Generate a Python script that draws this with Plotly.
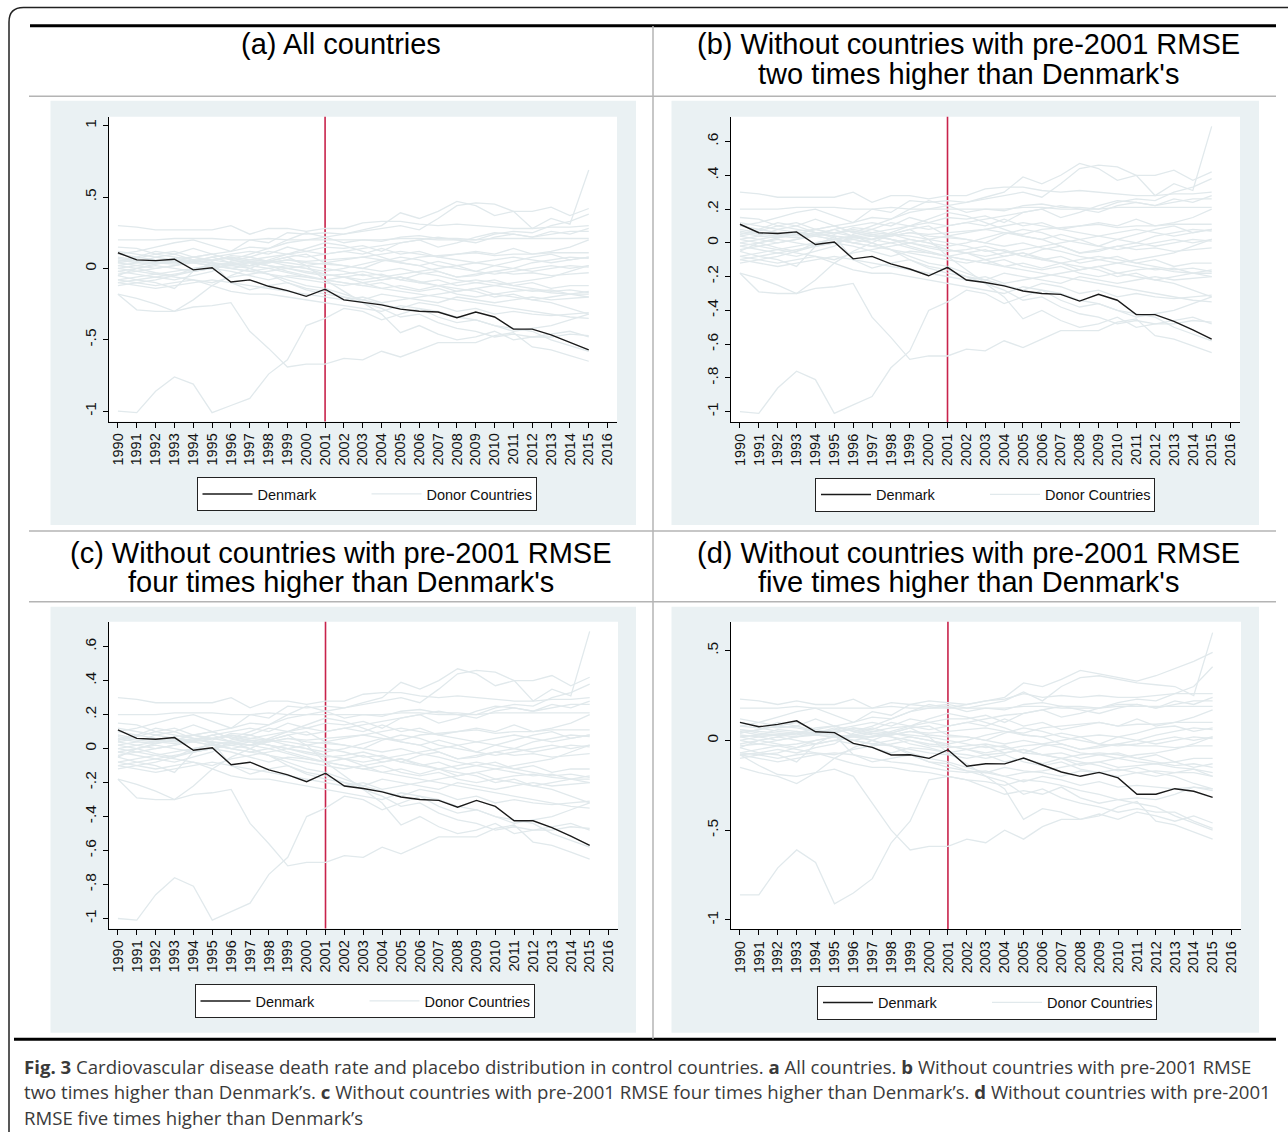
import plotly.graph_objects as go

W, H = 1288, 1132

# ---------------- data ----------------
years = list(range(1990, 2016))
year_ticks = list(range(1990, 2017))

denmark_abc = [0.11, 0.06, 0.055, 0.065, -0.01, 0.005, -0.095, -0.08, -0.125, -0.155, -0.195, -0.145, -0.22,
               -0.235, -0.255, -0.285, -0.30, -0.305, -0.345, -0.305, -0.34, -0.425, -0.425, -0.465, -0.515, -0.57]
denmark_d = [0.10, 0.076, 0.089, 0.109, 0.048, 0.043, -0.017, -0.039, -0.081, -0.080, -0.10, -0.052, -0.144,
             -0.13, -0.131, -0.098, -0.137, -0.176, -0.20, -0.178, -0.209, -0.30, -0.30, -0.269, -0.283, -0.317]

abc_01 = [0.30, 0.29, 0.27, 0.27, 0.27, 0.27, 0.30, 0.24, 0.28, 0.28, 0.26, 0.28, 0.28, 0.32, 0.33, 0.33, 0.31, 0.30, 0.31, 0.30, 0.29, 0.28, 0.28, 0.29, 0.29, 0.30]
abc_02 = [0.15, 0.14, 0.10, 0.12, 0.08, 0.10, 0.06, 0.10, 0.14, 0.20, 0.25, 0.22, 0.24, 0.27, 0.30, 0.39, 0.35, 0.40, 0.47, 0.44, 0.37, 0.40, 0.40, 0.43, 0.37, 0.42]
abc_03 = [0.05, 0.08, 0.12, 0.10, 0.14, 0.10, 0.12, 0.20, 0.18, 0.25, 0.24, 0.25, 0.24, 0.26, 0.28, 0.30, 0.27, 0.35, 0.44, 0.46, 0.45, 0.40, 0.28, 0.35, 0.31, 0.69]
abc_04 = [0.20, 0.20, 0.20, 0.21, 0.21, 0.21, 0.20, 0.20, 0.21, 0.20, 0.20, 0.20, 0.20, 0.20, 0.20, 0.21, 0.21, 0.20, 0.20, 0.20, 0.21, 0.21, 0.21, 0.21, 0.21, 0.21]
abc_05 = [0.10, 0.12, 0.15, 0.18, 0.20, 0.16, 0.12, 0.15, 0.14, 0.18, 0.20, 0.22, 0.18, 0.20, 0.19, 0.22, 0.23, 0.21, 0.21, 0.20, 0.24, 0.26, 0.25, 0.30, 0.33, 0.38]
abc_06 = [0.02, 0.04, 0.08, 0.06, 0.05, 0.08, 0.10, 0.12, 0.10, 0.15, 0.12, 0.15, 0.14, 0.16, 0.12, 0.18, 0.20, 0.15, 0.18, 0.22, 0.25, 0.24, 0.22, 0.26, 0.24, 0.28]
abc_07 = [-0.05, 0.0, 0.03, 0.05, 0.08, 0.05, 0.09, 0.08, 0.12, 0.10, 0.08, 0.10, 0.12, 0.10, 0.14, 0.10, 0.12, 0.08, 0.10, 0.12, 0.10, 0.14, 0.10, 0.12, 0.15, 0.20]
abc_08 = [0.08, 0.06, 0.05, 0.04, 0.06, 0.06, 0.07, 0.05, 0.04, 0.06, 0.05, 0.06, 0.07, 0.08, 0.06, 0.05, 0.08, 0.09, 0.10, 0.11, 0.09, 0.10, 0.10, 0.11, 0.11, 0.11]
abc_09 = [0.04, 0.02, 0.0, 0.02, 0.05, 0.08, 0.04, 0.02, 0.05, 0.08, 0.10, 0.04, 0.02, 0.0, 0.05, 0.08, 0.06, 0.02, 0.0, -0.02, 0.02, 0.05, 0.08, 0.10, 0.06, 0.08]
abc_10 = [0.0, 0.02, 0.04, 0.06, 0.04, 0.02, 0.0, -0.02, 0.0, 0.02, 0.0, -0.02, 0.0, 0.03, 0.06, 0.04, 0.02, 0.05, 0.02, -0.02, -0.04, -0.02, 0.0, 0.02, 0.0, 0.02]
abc_11 = [-0.02, 0.0, 0.02, 0.0, -0.02, 0.0, 0.03, 0.05, 0.02, 0.0, -0.03, -0.05, -0.04, -0.02, -0.05, -0.08, -0.04, -0.02, -0.06, -0.05, -0.02, -0.04, -0.03, -0.05, -0.04, -0.03]
abc_12 = [0.06, 0.04, 0.03, 0.05, 0.08, 0.10, 0.06, 0.04, 0.02, -0.02, -0.05, -0.08, -0.06, -0.10, -0.08, -0.06, -0.09, -0.12, -0.10, -0.08, -0.10, -0.12, -0.10, -0.14, -0.12, -0.12]
abc_13 = [-0.08, -0.06, -0.04, -0.02, 0.0, 0.02, 0.0, -0.02, -0.04, -0.06, -0.08, -0.10, -0.12, -0.10, -0.14, -0.12, -0.15, -0.12, -0.16, -0.14, -0.18, -0.16, -0.15, -0.17, -0.18, -0.18]
abc_14 = [0.02, 0.0, -0.03, -0.05, -0.02, 0.0, -0.02, -0.05, -0.08, -0.05, -0.06, -0.08, -0.10, -0.12, -0.10, -0.14, -0.16, -0.14, -0.18, -0.20, -0.18, -0.20, -0.22, -0.20, -0.18, -0.20]
abc_15 = [-0.10, -0.08, -0.06, -0.08, -0.05, -0.02, 0.05, 0.08, 0.05, 0.02, 0.0, -0.04, -0.06, -0.04, -0.08, -0.06, -0.10, -0.08, -0.12, -0.10, -0.08, -0.12, -0.14, -0.16, -0.15, -0.17]
abc_16 = [-0.12, -0.10, -0.08, -0.05, 0.0, 0.02, 0.04, 0.0, -0.04, -0.10, -0.15, -0.18, -0.20, -0.22, -0.18, -0.20, -0.22, -0.24, -0.20, -0.22, -0.24, -0.22, -0.20, -0.22, -0.21, -0.20]
abc_17 = [0.12, 0.10, 0.08, 0.10, 0.06, 0.04, 0.02, 0.0, -0.04, -0.08, -0.12, -0.14, -0.18, -0.22, -0.25, -0.28, -0.24, -0.26, -0.30, -0.28, -0.32, -0.30, -0.32, -0.33, -0.32, -0.31]
abc_18 = [-0.05, -0.08, -0.10, -0.14, -0.02, 0.04, -0.10, -0.15, -0.12, -0.10, -0.14, -0.16, -0.20, -0.24, -0.28, -0.34, -0.32, -0.38, -0.42, -0.44, -0.48, -0.46, -0.48, -0.48, -0.46, -0.47]
abc_19 = [-0.18, -0.21, -0.25, -0.30, -0.22, -0.12, -0.05, 0.0, 0.05, 0.08, 0.02, -0.08, -0.16, -0.24, -0.32, -0.45, -0.40, -0.46, -0.50, -0.48, -0.44, -0.50, -0.48, -0.46, -0.44, -0.48]
abc_20 = [-0.18, -0.29, -0.30, -0.30, -0.27, -0.26, -0.24, -0.44, -0.56, -0.69, -0.67, -0.67, -0.63, -0.64, -0.58, -0.62, -0.57, -0.52, -0.52, -0.52, -0.47, -0.45, -0.55, -0.57, -0.61, -0.65]
abc_21 = [-1.00, -1.01, -0.86, -0.76, -0.81, -1.01, -0.96, -0.91, -0.74, -0.64, -0.40, -0.35, -0.28, -0.30, -0.36, -0.32, -0.28, -0.34, -0.38, -0.36, -0.40, -0.44, -0.42, -0.40, -0.36, -0.32]
abc_22 = [0.05, 0.07, 0.10, 0.08, 0.06, 0.03, 0.0, 0.02, 0.06, 0.10, 0.14, 0.18, 0.16, 0.12, 0.08, 0.04, 0.02, -0.02, -0.06, -0.04, -0.02, 0.0, 0.04, 0.06, 0.08, 0.07]
abc_23 = [-0.04, -0.02, 0.0, 0.02, 0.04, 0.06, 0.08, 0.06, 0.05, 0.04, 0.02, 0.0, -0.02, -0.05, -0.04, -0.08, -0.10, -0.12, -0.14, -0.16, -0.20, -0.18, -0.22, -0.24, -0.28, -0.32]
abc_24 = [0.10, 0.08, 0.06, 0.05, 0.04, 0.02, 0.04, 0.06, 0.08, 0.10, 0.12, 0.10, 0.12, 0.14, 0.16, 0.18, 0.20, 0.22, 0.20, 0.18, 0.22, 0.24, 0.22, 0.24, 0.26, 0.26]
abc_25 = [-0.08, -0.10, -0.12, -0.10, -0.08, -0.12, -0.16, -0.18, -0.18, -0.20, -0.22, -0.24, -0.26, -0.28, -0.30, -0.26, -0.28, -0.30, -0.34, -0.36, -0.40, -0.42, -0.44, -0.50, -0.54, -0.58]
abc_26 = [0.0, -0.02, -0.04, -0.06, -0.08, -0.10, -0.06, -0.04, -0.02, 0.0, -0.02, -0.04, -0.06, -0.08, -0.06, -0.04, -0.02, 0.0, 0.02, 0.04, 0.02, 0.0, -0.02, 0.0, 0.02, 0.01]
abc_27 = [0.07, 0.05, 0.04, 0.03, 0.05, 0.04, 0.03, 0.02, 0.04, 0.06, 0.04, 0.03, 0.02, 0.0, -0.02, 0.0, -0.03, -0.05, -0.08, -0.10, -0.12, -0.14, -0.16, -0.15, -0.18, -0.16]
abc_28 = [-0.02, -0.04, -0.06, -0.04, -0.02, 0.0, 0.02, 0.04, 0.02, 0.0, 0.02, 0.04, 0.06, 0.08, 0.10, 0.12, 0.10, 0.08, 0.06, 0.04, 0.06, 0.08, 0.06, 0.04, 0.06, 0.08]
abc_29 = [0.04, 0.06, 0.05, 0.07, 0.08, 0.06, 0.04, 0.02, 0.0, -0.03, -0.06, -0.08, -0.10, -0.12, -0.14, -0.16, -0.18, -0.20, -0.22, -0.24, -0.26, -0.28, -0.30, -0.32, -0.34, -0.35]
abc_30 = [-0.10, -0.12, -0.14, -0.12, -0.10, -0.08, -0.10, -0.12, -0.14, -0.16, -0.18, -0.20, -0.22, -0.20, -0.24, -0.22, -0.20, -0.18, -0.16, -0.14, -0.12, -0.10, -0.08, -0.06, -0.02, 0.02]

d_01 = [0.23, 0.22, 0.20, 0.22, 0.20, 0.20, 0.23, 0.18, 0.21, 0.20, 0.22, 0.21, 0.20, 0.22, 0.23, 0.26, 0.24, 0.25, 0.24, 0.25, 0.24, 0.24, 0.25, 0.26, 0.26, 0.26]
d_02 = [0.12, 0.10, 0.08, 0.10, 0.06, 0.08, 0.05, 0.08, 0.12, 0.16, 0.20, 0.18, 0.20, 0.22, 0.24, 0.32, 0.30, 0.34, 0.39, 0.37, 0.35, 0.33, 0.36, 0.40, 0.44, 0.49]
d_03 = [0.04, 0.06, 0.10, 0.08, 0.12, 0.08, 0.10, 0.16, 0.14, 0.20, 0.19, 0.20, 0.18, 0.20, 0.22, 0.27, 0.22, 0.30, 0.35, 0.36, 0.34, 0.32, 0.31, 0.30, 0.25, 0.60]
d_04 = [0.18, 0.18, 0.18, 0.19, 0.18, 0.18, 0.18, 0.18, 0.19, 0.18, 0.18, 0.18, 0.18, 0.18, 0.18, 0.19, 0.19, 0.18, 0.18, 0.18, 0.19, 0.19, 0.19, 0.19, 0.19, 0.19]
d_05 = [0.08, 0.10, 0.13, 0.16, 0.18, 0.14, 0.10, 0.13, 0.12, 0.16, 0.18, 0.19, 0.16, 0.18, 0.17, 0.20, 0.21, 0.19, 0.19, 0.18, 0.21, 0.23, 0.22, 0.26, 0.30, 0.41]
d_06 = [0.02, 0.03, 0.06, 0.05, 0.04, 0.06, 0.08, 0.10, 0.08, 0.12, 0.10, 0.12, 0.12, 0.14, 0.10, 0.15, 0.17, 0.13, 0.15, 0.18, 0.20, 0.20, 0.18, 0.22, 0.20, 0.24]
d_07 = [-0.04, 0.0, 0.02, 0.04, 0.06, 0.04, 0.07, 0.06, 0.10, 0.08, 0.06, 0.08, 0.10, 0.08, 0.12, 0.08, 0.10, 0.06, 0.08, 0.10, 0.08, 0.12, 0.08, 0.10, 0.13, 0.17]
d_08 = [0.06, 0.05, 0.04, 0.03, 0.05, 0.05, 0.06, 0.04, 0.03, 0.05, 0.04, 0.05, 0.06, 0.07, 0.05, 0.04, 0.07, 0.08, 0.09, 0.10, 0.08, 0.09, 0.09, 0.10, 0.10, 0.10]
d_09 = [0.03, 0.02, 0.0, 0.02, 0.04, 0.07, 0.03, 0.02, 0.04, 0.07, 0.08, 0.03, 0.02, 0.0, 0.04, 0.07, 0.05, 0.02, 0.0, -0.02, 0.02, 0.04, 0.07, 0.08, 0.05, 0.07]
d_10 = [0.0, 0.02, 0.03, 0.05, 0.03, 0.02, 0.0, -0.02, 0.0, 0.02, 0.0, -0.02, 0.0, 0.03, 0.05, 0.03, 0.02, 0.04, 0.02, -0.02, -0.03, -0.02, 0.0, 0.02, 0.0, 0.02]
d_11 = [-0.02, 0.0, 0.02, 0.0, -0.02, 0.0, 0.02, 0.04, 0.02, 0.0, -0.03, -0.04, -0.03, -0.02, -0.04, -0.07, -0.03, -0.02, -0.05, -0.04, -0.02, -0.03, -0.03, -0.04, -0.03, -0.03]
d_12 = [0.05, 0.03, 0.03, 0.04, 0.07, 0.08, 0.05, 0.03, 0.02, -0.02, -0.04, -0.07, -0.05, -0.08, -0.07, -0.05, -0.08, -0.10, -0.08, -0.07, -0.08, -0.10, -0.08, -0.12, -0.10, -0.10]
d_13 = [-0.07, -0.05, -0.03, -0.02, 0.0, 0.02, 0.0, -0.02, -0.03, -0.05, -0.07, -0.08, -0.10, -0.08, -0.12, -0.10, -0.13, -0.10, -0.14, -0.12, -0.15, -0.14, -0.13, -0.15, -0.16, -0.18]
d_14 = [0.02, 0.0, -0.02, -0.04, -0.02, 0.0, -0.02, -0.04, -0.07, -0.04, -0.05, -0.07, -0.08, -0.10, -0.08, -0.12, -0.14, -0.12, -0.16, -0.18, -0.16, -0.18, -0.20, -0.18, -0.16, -0.20]
d_15 = [-0.08, -0.07, -0.05, -0.07, -0.04, -0.02, 0.04, 0.07, 0.04, 0.02, 0.0, -0.03, -0.05, -0.03, -0.07, -0.05, -0.08, -0.07, -0.10, -0.08, -0.07, -0.10, -0.12, -0.14, -0.13, -0.15]
d_16 = [-0.10, -0.08, -0.07, -0.04, 0.0, 0.02, 0.03, 0.0, -0.03, -0.08, -0.12, -0.15, -0.17, -0.18, -0.15, -0.17, -0.18, -0.20, -0.17, -0.18, -0.20, -0.18, -0.17, -0.18, -0.18, -0.20]
d_17 = [0.10, 0.08, 0.07, 0.08, 0.05, 0.03, 0.02, 0.0, -0.03, -0.07, -0.10, -0.12, -0.15, -0.18, -0.20, -0.23, -0.20, -0.22, -0.25, -0.23, -0.26, -0.25, -0.26, -0.27, -0.26, -0.27]
d_18 = [-0.04, -0.07, -0.08, -0.12, -0.02, 0.03, -0.08, -0.12, -0.10, -0.08, -0.12, -0.13, -0.17, -0.20, -0.23, -0.30, -0.27, -0.32, -0.35, -0.37, -0.40, -0.38, -0.40, -0.40, -0.45, -0.49]
d_19 = [-0.15, -0.18, -0.20, -0.24, -0.18, -0.10, -0.04, 0.0, 0.04, 0.07, 0.02, -0.07, -0.13, -0.20, -0.27, -0.44, -0.38, -0.40, -0.44, -0.41, -0.44, -0.40, -0.42, -0.45, -0.42, -0.46]
d_20 = [-0.08, -0.14, -0.19, -0.20, -0.18, -0.16, -0.20, -0.35, -0.50, -0.61, -0.59, -0.59, -0.55, -0.57, -0.50, -0.55, -0.48, -0.44, -0.44, -0.42, -0.37, -0.34, -0.45, -0.47, -0.51, -0.55]
d_21 = [-0.86, -0.86, -0.71, -0.61, -0.68, -0.91, -0.85, -0.77, -0.57, -0.45, -0.22, -0.20, -0.22, -0.26, -0.30, -0.28, -0.30, -0.26, -0.32, -0.35, -0.33, -0.32, -0.33, -0.30, -0.26, -0.28]
d_22 = [0.04, 0.06, 0.08, 0.07, 0.05, 0.03, 0.0, 0.02, 0.05, 0.08, 0.12, 0.15, 0.13, 0.10, 0.07, 0.03, 0.02, -0.02, -0.05, -0.03, -0.02, 0.0, 0.03, 0.05, 0.07, 0.06]
d_23 = [-0.03, -0.02, 0.0, 0.02, 0.03, 0.05, 0.07, 0.05, 0.04, 0.03, 0.02, 0.0, -0.02, -0.04, -0.03, -0.07, -0.08, -0.10, -0.12, -0.14, -0.17, -0.15, -0.18, -0.20, -0.24, -0.27]
d_24 = [0.08, 0.07, 0.05, 0.04, 0.03, 0.02, 0.03, 0.05, 0.07, 0.08, 0.10, 0.08, 0.10, 0.12, 0.14, 0.15, 0.17, 0.19, 0.17, 0.15, 0.18, 0.20, 0.18, 0.20, 0.22, 0.22]
d_25 = [-0.07, -0.08, -0.10, -0.08, -0.07, -0.10, -0.13, -0.15, -0.15, -0.17, -0.18, -0.20, -0.22, -0.23, -0.25, -0.22, -0.23, -0.25, -0.28, -0.30, -0.33, -0.35, -0.37, -0.42, -0.46, -0.50]
d_26 = [0.0, -0.02, -0.03, -0.05, -0.07, -0.08, -0.05, -0.03, -0.02, 0.0, -0.02, -0.03, -0.05, -0.07, -0.05, -0.03, -0.02, 0.0, 0.02, 0.03, 0.02, 0.0, -0.02, 0.0, 0.02, 0.01]
d_27 = [0.06, 0.04, 0.03, 0.02, 0.04, 0.03, 0.02, 0.02, 0.03, 0.05, 0.03, 0.02, 0.02, 0.0, -0.02, 0.0, -0.02, -0.04, -0.07, -0.08, -0.10, -0.12, -0.13, -0.12, -0.15, -0.13]
d_28 = [-0.08, -0.10, -0.12, -0.10, -0.08, -0.07, -0.08, -0.10, -0.12, -0.13, -0.15, -0.17, -0.18, -0.17, -0.20, -0.18, -0.17, -0.15, -0.13, -0.12, -0.10, -0.08, -0.07, -0.05, -0.02, 0.02]

donors_abc = [abc_01, abc_02, abc_03, abc_04, abc_05, abc_06, abc_07, abc_08, abc_09, abc_10,
              abc_11, abc_12, abc_13, abc_14, abc_15, abc_16, abc_17, abc_18, abc_19, abc_20,
              abc_21, abc_22, abc_23, abc_24, abc_25, abc_26, abc_27, abc_28, abc_29, abc_30]
donors_d = [d_01, d_02, d_03, d_04, d_05, d_06, d_07, d_08, d_09, d_10, d_11, d_12, d_13, d_14,
            d_15, d_16, d_17, d_18, d_19, d_20, d_21, d_22, d_23, d_24, d_25, d_26, d_27, d_28]

treat_year = 2001

titles_a = ["(a) All countries"]
titles_b = ["(b) Without countries with pre-2001 RMSE", "two times higher than Denmark's"]
titles_c = ["(c) Without countries with pre-2001 RMSE", "four times higher than Denmark's"]
titles_d = ["(d) Without countries with pre-2001 RMSE", "five times higher than Denmark's"]

yt_a = [-1, -0.5, 0, 0.5, 1]
ytt_a = ["-1", "-.5", "0", ".5", "1"]
yt_bc = [-1, -0.8, -0.6, -0.4, -0.2, 0, 0.2, 0.4, 0.6]
ytt_bc = ["-1", "-.8", "-.6", "-.4", "-.2", "0", ".2", ".4", ".6"]
yt_d = [-1, -0.5, 0, 0.5]
ytt_d = ["-1", "-.5", "0", ".5"]

caption_lines = [
    "<b>Fig. 3</b> Cardiovascular disease death rate and placebo distribution in control countries. <b>a</b> All countries. <b>b</b> Without countries with pre-2001 RMSE",
    "two times higher than Denmark’s. <b>c</b> Without countries with pre-2001 RMSE four times higher than Denmark’s. <b>d</b> Without countries with pre-2001",
    "RMSE five times higher than Denmark’s",
]

# ---------------- styling ----------------
FONT = "Liberation Sans, Arial, Helvetica, sans-serif"
CAP_FONT = "Open Sans, sans-serif"
PANEL_BG = "#eaf1f3"
DONOR_COL = "#e1e9ec"
DK_COL = "#1a1a1a"
RED = "#c8234b"
SEP = "#b4b4b4"


def fx(px):
    return px / W


def fy(py):
    return 1 - py / H


panels = [
    dict(ax="", xd=(108.5, 617), yd=(116.7, 421.5), yr=(-1.072, 1.063), yt=yt_a, ytt=ytt_a,
         legend="legend", leg=(366.5, 477), dk=denmark_abc, dn=donors_abc, bg=(50.5, 100.7, 636, 525)),
    dict(ax="2", xd=(730.5, 1240), yd=(116.7, 422), yr=(-1.061, 0.747), yt=yt_bc, ytt=ytt_bc,
         legend="legend2", leg=(985, 477.5), dk=denmark_abc, dn=donors_abc, bg=(671.5, 100.7, 1259, 525)),
    dict(ax="3", xd=(108.5, 618), yd=(621.7, 928.5), yr=(-1.059, 0.747), yt=yt_bc, ytt=ytt_bc,
         legend="legend3", leg=(364.5, 984), dk=denmark_abc, dn=donors_abc, bg=(50.5, 606.7, 636, 1032.7)),
    dict(ax="4", xd=(730.5, 1241), yd=(621.7, 929.3), yr=(-1.052, 0.661), yt=yt_d, ytt=ytt_d,
         legend="legend4", leg=(987, 985.5), dk=denmark_d, dn=donors_d, bg=(671.5, 606.7, 1259, 1032.7)),
]

fig = go.Figure()
shapes = []
layout = dict(width=W, height=H, margin=dict(l=0, r=0, t=0, b=0),
              paper_bgcolor="white", plot_bgcolor="white", showlegend=True)

tickfont = dict(family=FONT, size=14.5, color="#111111")

for p in panels:
    xa = "x" + p["ax"]
    ya = "y" + p["ax"]
    x0, y0, x1, y1 = p["bg"]
    shapes.append(dict(type="rect", xref="paper", yref="paper", x0=fx(x0), x1=fx(x1), y0=fy(y1), y1=fy(y0),
                       fillcolor=PANEL_BG, line=dict(width=0), layer="below"))
    shapes.append(dict(type="rect", xref="paper", yref="paper", x0=fx(p["xd"][0]), x1=fx(p["xd"][1]),
                       y0=fy(p["yd"][1]), y1=fy(p["yd"][0]), fillcolor="white", line=dict(width=0), layer="below"))
    shapes.append(dict(type="line", xref=xa, yref=ya + " domain", x0=treat_year, x1=treat_year, y0=0, y1=1,
                       line=dict(color=RED, width=1.6), layer="below"))

    for i, d in enumerate(p["dn"]):
        fig.add_trace(go.Scatter(x=years, y=d, mode="lines", xaxis=xa, yaxis=ya,
                                 line=dict(color=DONOR_COL, width=1.3), name="Donor Countries",
                                 showlegend=(i == 0), legend=p["legend"], legendrank=2, hoverinfo="skip"))
    fig.add_trace(go.Scatter(x=years, y=p["dk"], mode="lines", xaxis=xa, yaxis=ya,
                             line=dict(color=DK_COL, width=1.4), name="Denmark",
                             showlegend=True, legend=p["legend"], legendrank=1, hoverinfo="skip"))

    layout["xaxis" + p["ax"]] = dict(
        domain=[fx(p["xd"][0]), fx(p["xd"][1])], anchor=ya, range=[1989.5, 2016.5],
        tickmode="array", tickvals=year_ticks, ticktext=[str(y) for y in year_ticks], tickangle=-90,
        ticks="outside", ticklen=5, tickwidth=1, tickcolor="black", showline=True, linecolor="black",
        linewidth=1, showgrid=False, zeroline=False, tickfont=tickfont, fixedrange=True)
    layout["yaxis" + p["ax"]] = dict(
        domain=[fy(p["yd"][1]), fy(p["yd"][0])], anchor=xa, range=list(p["yr"]),
        tickmode="array", tickvals=p["yt"], ticktext=p["ytt"], tickangle=-90,
        ticks="outside", ticklen=5, tickwidth=1, tickcolor="black", showline=True, linecolor="black",
        linewidth=1, showgrid=False, zeroline=False, tickfont=dict(family=FONT, size=15.5, color="#111111"),
        fixedrange=True)
    layout[p["legend"]] = dict(
        x=fx(p["leg"][0]), y=fy(p["leg"][1]), xanchor="center", yanchor="top", orientation="h",
        bgcolor="white", bordercolor="#222222", borderwidth=1, font=dict(family=FONT, size=14.5, color="#111111"),
        entrywidth=104, itemwidth=50, tracegroupgap=0, itemclick=False, itemdoubleclick=False)


def hline(y, xa, xb, color, width):
    return dict(type="line", xref="paper", yref="paper", x0=fx(xa), x1=fx(xb), y0=fy(y), y1=fy(y),
                line=dict(color=color, width=width), layer="above")


shapes.append(hline(25.7, 30, 1276, "black", 3))
shapes.append(hline(96.3, 29, 1276, SEP, 1.5))
shapes.append(hline(531, 29, 1276, SEP, 1.5))
shapes.append(hline(601.7, 29, 1276, SEP, 1.5))
shapes.append(hline(1039.3, 14, 1276, "black", 3))
shapes.append(dict(type="line", xref="paper", yref="paper", x0=fx(653), x1=fx(653), y0=fy(1039), y1=fy(26),
                   line=dict(color=SEP, width=1.5)))
border_path = "M {:.5f},{:.5f} L {:.5f},{:.5f} Q {:.5f},{:.5f} {:.5f},{:.5f} L {:.5f},{:.5f}".format(
    fx(9), fy(1140), fx(9), fy(22), fx(9), fy(7.5), fx(23.5), fy(7.5), fx(1300), fy(7.5))
shapes.append(dict(type="path", xref="paper", yref="paper", path=border_path,
                   line=dict(color="#222222", width=1.5)))

layout["shapes"] = shapes

annotations = []


def title(text, cx, cy):
    annotations.append(dict(text=text, x=fx(cx), y=fy(cy), xref="paper", yref="paper", showarrow=False,
                            xanchor="center", yanchor="middle", font=dict(family=FONT, size=29, color="black")))


title(titles_a[0], 341, 44)
title(titles_b[0], 968, 44)
title(titles_b[1], 968, 74)
title(titles_c[0], 341, 553)
title(titles_c[1], 341, 582)
title(titles_d[0], 968, 553)
title(titles_d[1], 968, 582)

for i, line in enumerate(caption_lines):
    annotations.append(dict(text=line, x=fx(22), y=fy(1066 + 25.5 * i), xref="paper", yref="paper",
                            showarrow=False, xanchor="left", yanchor="middle",
                            font=dict(family=CAP_FONT, size=18.6, color="#3a3a3a")))

layout["annotations"] = annotations
fig.update_layout(**layout)

fig.write_html("out.html", config={"displayModeBar": False},
               post_script="document.body.style.margin='0';document.body.style.overflow='hidden';")
